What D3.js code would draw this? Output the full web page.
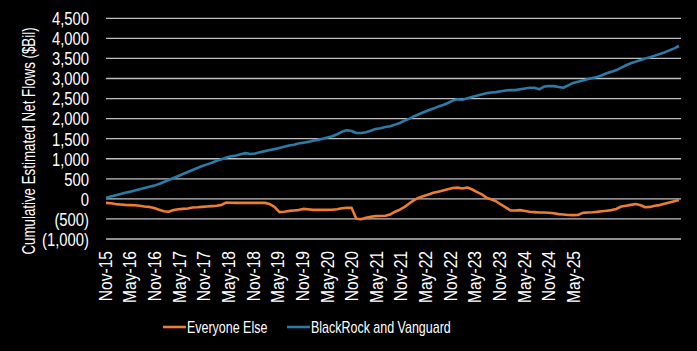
<!DOCTYPE html>
<html>
<head>
<meta charset="utf-8">
<script src="https://cdn.jsdelivr.net/npm/d3@7"></script>
<style>
  body { margin: 0; background: #000; }
  svg text { font-family: "Liberation Sans", Arial, sans-serif; fill: #fff; }
</style>
</head>
<body>
<div id="chart"></div>
<script>
// categories: monthly, Nov-15 .. Oct-25
var months = d3.timeMonth.range(new Date(2015, 10, 1), new Date(2025, 10, 1));

var tickLabels = ["Nov-15", "May-16", "Nov-16", "May-17", "Nov-17", "May-18", "Nov-18", "May-19", "Nov-19", "May-20",
                  "Nov-20", "May-21", "Nov-21", "May-22", "Nov-22", "May-23", "Nov-23", "May-24", "Nov-24", "May-25"];

var yTicks = [-1000, -500, 0, 500, 1000, 1500, 2000, 2500, 3000, 3500, 4000, 4500];

// cumulative estimated net flows, $bil
var blackrockVanguard = [
    30, 60, 90, 120, 150, 180, 210,
    240, 270, 300, 330, 370, 420,
    470, 520, 570, 620, 670, 720,
    770, 820, 860, 900, 950, 990,
    1030, 1060, 1080, 1110, 1140, 1120,
    1130, 1160, 1190, 1220, 1240, 1270,
    1300, 1330, 1350, 1380, 1400, 1420,
    1450, 1470, 1500, 1530, 1560, 1610,
    1670, 1710, 1690, 1640, 1640, 1660,
    1700, 1740, 1760, 1790, 1810, 1850,
    1890, 1950, 2000, 2060, 2110, 2160,
    2210, 2250, 2300, 2340, 2390, 2450,
    2480, 2470, 2510, 2540, 2570, 2600,
    2630, 2650, 2660, 2680, 2700, 2710,
    2710, 2730, 2750, 2770, 2770, 2730,
    2800, 2810, 2810, 2790, 2770, 2830,
    2890, 2920, 2950, 2980, 3010, 3040,
    3080, 3130, 3170, 3210, 3270, 3330,
    3380, 3420, 3460, 3500, 3530, 3570,
    3610, 3650, 3700, 3750, 3810
];

var everyoneElse = [
    -100, -110, -130, -140, -150, -155, -160,
    -170, -190, -200, -230, -270, -310,
    -320, -280, -260, -250, -240, -215,
    -210, -200, -190, -180, -170, -150,
    -90, -95, -100, -100, -100, -100,
    -100, -100, -100, -130, -200, -330,
    -320, -300, -290, -280, -250, -260,
    -275, -275, -275, -275, -270, -260,
    -235, -225, -225, -495, -505, -470,
    -445, -430, -425, -420, -390, -320,
    -270, -200, -110, -30, 30, 70,
    110, 150, 180, 210, 240, 270,
    280, 260, 285, 240, 175, 120,
    30, -10, -60, -140, -210, -290,
    -290, -280, -300, -320, -330, -340,
    -340, -345, -360, -380, -390, -400,
    -405, -400, -350, -340, -335, -325,
    -310, -295, -280, -250, -190, -170,
    -150, -130, -160, -210, -200, -170,
    -155, -120, -90, -60, -30
];

var seriesNames = ["Everyone Else", "BlackRock and Vanguard"];
var seriesColors = ["#ED7D31", "#2A7BA6"];

var W = 697, H = 351;
var plot = { left: 106, right: 681, top: 18.3, bottom: 239 };
var narrow = 0.78; // the original uses a condensed face

var svg = d3.select("#chart").append("svg")
    .attr("width", W)
    .attr("height", H)
    .style("background", "#000");

var x = d3.scaleTime()
    .domain(d3.extent(months))
    .range([plot.left, 679]);

var y = d3.scaleLinear()
    .domain([-1000, 4500])
    .range([plot.bottom, plot.top]);

// tick labels are spaced on their own in the original
var xLabel = d3.scalePoint()
    .domain(tickLabels)
    .range([105, 573]);

var fmt = function(v) {
    var s = d3.format(",")(Math.abs(v));
    return v < 0 ? "(" + s + ")" : s;
};

// gridlines
svg.append("g")
    .selectAll("line")
    .data(yTicks)
    .enter()
    .append("line")
    .attr("x1", plot.left)
    .attr("x2", plot.right)
    .attr("y1", function(d) { return y(d); })
    .attr("y2", function(d) { return y(d); })
    .attr("stroke", "#BFBFBF")
    .attr("stroke-width", 1.3);

// y labels
svg.append("g")
    .selectAll("text")
    .data(yTicks)
    .enter()
    .append("text")
    .attr("transform", function(d) { return "translate(89," + y(d) + ") scale(" + narrow + ",1)"; })
    .attr("dy", "0.36em")
    .attr("text-anchor", "end")
    .style("font-size", "19px")
    .text(fmt);

// y title
svg.append("text")
    .attr("transform", "translate(29,141) rotate(-90) scale(0.74,1)")
    .attr("dy", "0.35em")
    .attr("text-anchor", "middle")
    .style("font-size", "18px")
    .text("Cumulative Estimated Net Flows ($Bil)");

// x labels
svg.append("g")
    .selectAll("text")
    .data(tickLabels)
    .enter()
    .append("text")
    .attr("transform", function(d) { return "translate(" + xLabel(d) + ",251) rotate(-90) scale(0.82,1)"; })
    .attr("dy", "0.36em")
    .attr("text-anchor", "end")
    .style("font-size", "19px")
    .text(function(d) { return d; });

// lines
var line = d3.line()
    .x(function(d, i) { return x(months[i]); })
    .y(function(d) { return y(d); });

[everyoneElse, blackrockVanguard].forEach(function(s, k) {
    svg.append("path")
        .datum(s)
        .attr("fill", "none")
        .attr("stroke", seriesColors[k])
        .attr("stroke-width", 2.6)
        .attr("stroke-linejoin", "round")
        .attr("d", line);
});

// legend
var legendX = [163, 287];
var leg = svg.append("g")
    .selectAll("g")
    .data(seriesNames)
    .enter()
    .append("g")
    .attr("transform", function(d, i) { return "translate(" + legendX[i] + ",327)"; });

leg.append("line")
    .attr("x1", 0)
    .attr("x2", 23)
    .attr("stroke", function(d, i) { return seriesColors[i]; })
    .attr("stroke-width", 2.6);

leg.append("text")
    .attr("transform", "translate(24,0) scale(" + narrow + ",1)")
    .attr("dy", "0.36em")
    .style("font-size", "16px")
    .text(function(d) { return d; });
</script>
</body>
</html>
